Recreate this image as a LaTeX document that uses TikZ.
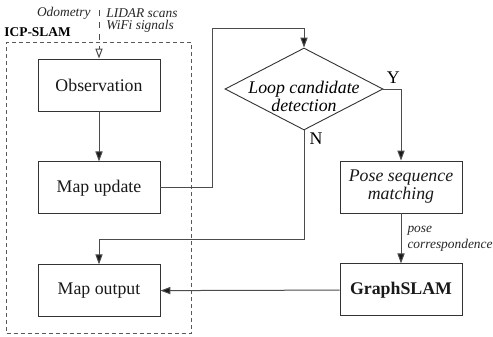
\documentclass[tikz,border=0pt]{standalone}
\usepackage{fontspec}
\setmainfont{Liberation Serif}
\usetikzlibrary{positioning,chains,fit,shapes.geometric,arrows.meta}

\newcommand{\mainsize}{\fontsize{8.9}{9}\selectfont}
\newcommand{\notesize}{\fontsize{6.7}{8}\selectfont}

\begin{document}
\begin{tikzpicture}[x=0.5pt,y=-0.5pt,
      font=\mainsize,
      block/.style={draw=black!80,line width=0.45pt,minimum width=61pt,minimum height=26pt,
        inner sep=1pt,align=center,text=black!90},
      decision/.style={draw=black!80,line width=0.45pt,diamond,minimum width=79pt,
        minimum height=41pt,inner sep=0pt},
      frame/.style={draw=black!65,line width=0.5pt,dash pattern=on 2pt off 1.5pt,
        inner xsep=15.5pt,inner ysep=8pt},
      note/.style={font=\notesize\itshape,inner sep=0pt,align=left,text=black!85},
      link/.style={draw=black!70,line width=0.5pt},
      arrow/.style={link,-{Triangle[length=5pt,width=3.6pt,fill=black!90]}}
    ]
    \useasboundingbox[fill=white] (0,0) rectangle (493,337);

    % the ICP-SLAM column
    \begin{scope}[start chain=going below,node distance=25pt]
      \node[block,on chain] (obs) at (99,85) {Observation};
      \node[block,on chain] (update) {Map update};
      \node[block,on chain] (output) {Map output};
    \end{scope}

    % the loop closing column
    \node[decision] (loop) at (304,89)
      [label={[font=\mainsize\itshape,align=center,inner sep=0pt,yshift=-3.5pt]center:Loop candidate\\detection}] {};
    \begin{scope}[start chain=going below,node distance=25pt]
      \node[block,on chain,font=\mainsize\itshape] (pose) at (401,187) {Pose sequence\\matching};
      \node[block,on chain,font=\mainsize\bfseries] (graph) {GraphSLAM};
    \end{scope}

    % the ICP-SLAM frame
    \node[frame,fit=(obs)(output),
      label={[font=\notesize\bfseries,anchor=south west,inner sep=0pt,xshift=-1pt,yshift=2.5pt]north west:ICP-SLAM}] (icp) {};

    % the sensor inputs
    \coordinate (in) at (99,10);
    \node[note,anchor=base east] (odo) at (91,17) {Odometry};
    \node[note,anchor=north west,font=\fontsize{6.7}{6}\selectfont\itshape] (sens) at (106,8) {LIDAR scans\\WiFi signals};
    \draw[link,dashed,-{Triangle[open,length=5pt,width=3.6pt]}] (in) -- (obs.north);

    % the edges
    \draw[arrow] (obs) -- (update);
    \draw[arrow] (update.east) -- ++(52,0) |- ([yshift=9.5pt]loop.north) -- (loop.north);
    \draw[arrow] (loop.east) node[anchor=south west,inner sep=1pt,xshift=0.5pt,yshift=1.5pt] {Y} -| (pose.north);
    \draw[arrow] (loop.south) node[anchor=north west,inner sep=1pt,xshift=1.5pt] {N}
      |- ([yshift=12.5pt]output.north) -- (output.north);
    \draw[arrow] (pose) -- node[note,right,xshift=3pt] {pose\\correspondence} (graph);
    \draw[arrow] (graph) -- (output);
\end{tikzpicture}
\end{document}
